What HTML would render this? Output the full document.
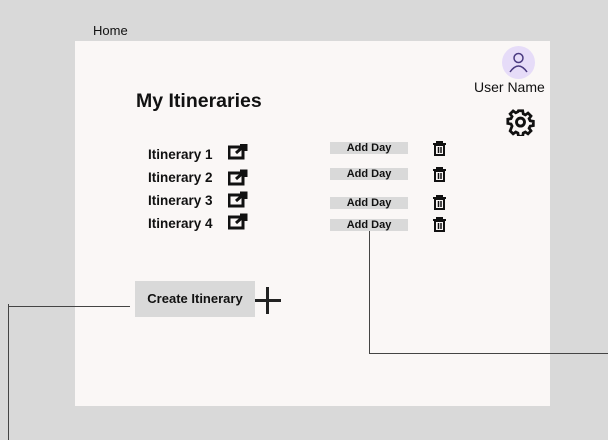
<!DOCTYPE html>
<html><head><style>
body{margin:0;width:608px;height:440px;background:#d9d9d9;position:relative;overflow:hidden;font-family:"Liberation Sans",sans-serif;color:#111}
.a{position:absolute}
.panel{left:75px;top:41px;width:475px;height:365px;background:#faf7f6}
.it{font-size:13.5px;font-weight:bold;left:148px}
.ad{left:330px;width:78px;height:12px;background:#d9d9d9;font-size:11px;font-weight:bold;text-align:center;line-height:12px}
.ln{background:#444}
</style></head><body>
<div class="a" style="left:93px;top:23px;font-size:13px">Home</div>
<div class="a panel"></div>
<div class="a" style="left:136px;top:90px;font-size:19.5px;font-weight:bold">My Itineraries</div>
<div class="a" style="left:502px;top:46px;width:33px;height:33px;border-radius:50%;background:#e6dcf8"></div>
<svg class="a" style="left:502px;top:46px" width="33" height="33" viewBox="0 0 33 33"><circle cx="16.5" cy="12" r="4.5" fill="none" stroke="#4a3a80" stroke-width="1.5"/><path d="M8 26 Q16.5 14 25 26" fill="none" stroke="#4a3a80" stroke-width="1.5"/></svg>
<div class="a" style="left:474px;top:79px;font-size:14px">User Name</div>
<svg class="a" style="left:506px;top:107px" width="29" height="29" viewBox="0 0 24 24"><path d="M10 2h4l.5 3 2 1 2.5-1.8 2.8 2.8L20 9.5l1 2 3 .5v4l-3 .5-1 2 1.8 2.5-2.8 2.8L16.5 22l-2 1-.5 3h-4l-.5-3-2-1-2.5 1.8-2.8-2.8L4 16.5l-1-2L0 14v-4l3-.5 1-2L2.2 5 5 2.2 7.5 4l2-1z" transform="translate(1.5,1.3) scale(.88)" fill="none" stroke="#111" stroke-width="2.6"/><circle cx="12" cy="12.5" r="3.3" fill="none" stroke="#111" stroke-width="2.4"/></svg>
<div class="a it" style="top:147px">Itinerary 1</div>
<div class="a it" style="top:170px">Itinerary 2</div>
<div class="a it" style="top:193px">Itinerary 3</div>
<div class="a it" style="top:216px">Itinerary 4</div>
<svg class="a" style="left:228px;top:144px" width="20" height="90">
<g id="e"><rect x="1" y="3" width="14" height="11" fill="none" stroke="#111" stroke-width="3"/><path d="M8 9 L17 1 M12 1h6v6" stroke="#111" stroke-width="3" fill="none"/></g>
<use href="#e" y="26"/><use href="#e" y="48"/><use href="#e" y="70"/></svg>
<div class="a ad" style="top:142px">Add Day</div>
<div class="a ad" style="top:168px">Add Day</div>
<div class="a ad" style="top:197px">Add Day</div>
<div class="a ad" style="top:219px">Add Day</div>
<svg class="a" style="left:432px;top:141px" width="16" height="92">
<g id="t"><path d="M1 3h13M5 3V1h5v2" stroke="#111" stroke-width="2" fill="none"/><rect x="3" y="4" width="9" height="10" fill="none" stroke="#111" stroke-width="2"/><path d="M6.5 6v6M9 6v6" stroke="#111" stroke-width="1.5"/></g>
<use href="#t" y="26"/><use href="#t" y="54"/><use href="#t" y="76"/></svg>
<div class="a" style="left:135px;top:281px;width:120px;height:36px;background:#d9d9d9;font-size:13px;font-weight:bold;text-align:center;line-height:36px">Create Itinerary</div>
<div class="a" style="left:255px;top:299px;width:26px;height:3px;background:#222"></div>
<div class="a" style="left:266px;top:287px;width:3px;height:27px;background:#222"></div>
<div class="a ln" style="left:369px;top:231px;width:1px;height:123px"></div>
<div class="a ln" style="left:369px;top:353px;width:239px;height:1px"></div>
<div class="a ln" style="left:9px;top:306px;width:121px;height:1px"></div>
<div class="a ln" style="left:8px;top:304px;width:1px;height:136px"></div>
</body></html>
